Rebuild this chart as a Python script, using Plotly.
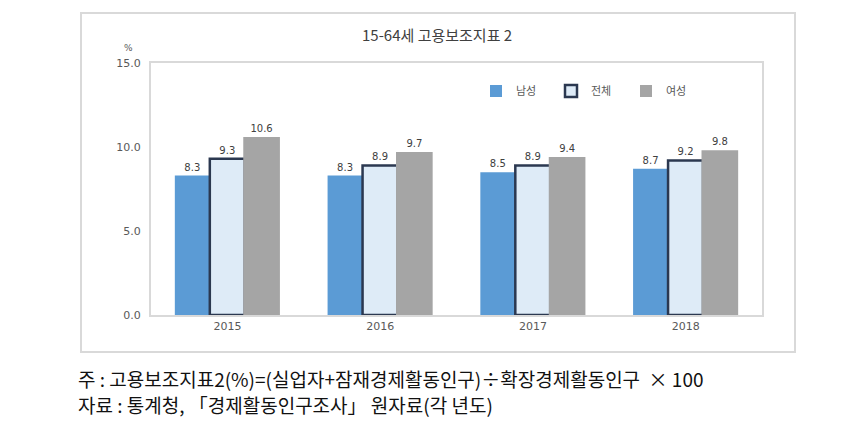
import plotly.graph_objects as go

years = ["2015", "2016", "2017", "2018"]
male = [8.3, 8.3, 8.5, 8.7]
total = [9.3, 8.9, 8.9, 9.2]
female = [10.6, 9.7, 9.4, 9.8]
series_names = ["남성", "전체", "여성"]

title_text = "15-64세 고용보조지표 2"
note1 = "주 : 고용보조지표2(%)=(실업자+잠재경제활동인구)÷확장경제활동인구  × 100"
note2 = "자료 : 통계청, 「경제활동인구조사」 원자료(각 년도)"

OFF = 8  # page body margin
W, H = 851 - OFF, 425 - OFF
L, R, T, B = 151, 762, 63, 315  # page coordinates of plot area
pw, ph = R - L, B - T

def px(x):
    return (x - L) / pw

def py(y):
    return (B - y) / ph

lbl_font = dict(family="DejaVu Sans, Verdana", size=10, color="#404040")
bw = 0.229

fig = go.Figure()
fig.add_trace(go.Bar(
    name=series_names[0], x=years, y=male, width=bw, offset=-0.344,
    marker=dict(color="#5b9bd5", line=dict(width=0)),
    text=[f"{v:.1f}" for v in male], textposition="outside",
    textfont=lbl_font, cliponaxis=False,
))
fig.add_trace(go.Bar(
    name=series_names[1], x=years, y=total, width=bw, offset=-0.115,
    marker=dict(color="#deebf7", line=dict(color="#2b3850", width=2.5)),
    text=[f"{v:.1f}" for v in total], textposition="outside",
    textfont=lbl_font, cliponaxis=False,
))
fig.add_trace(go.Bar(
    name=series_names[2], x=years, y=female, width=0.24, offset=0.104,
    marker=dict(color="#a5a5a5", line=dict(width=0)),
    text=[f"{v:.1f}" for v in female], textposition="outside",
    textfont=lbl_font, cliponaxis=False,
))

fig.update_layout(
    width=W, height=H,
    margin=dict(l=L - OFF, r=W - (R - OFF), t=T - OFF, b=H - (B - OFF), autoexpand=False),
    paper_bgcolor="white", plot_bgcolor="white",
    barmode="overlay",
    font=dict(family="DejaVu Sans, Verdana", size=10, color="#595959"),
    legend=dict(
        orientation="h", x=px(476), y=py(91), xanchor="left", yanchor="middle",
        font=dict(family="Noto Sans CJK KR", size=11, color="#595959"),
        entrywidth=30, entrywidthmode="pixels", tracegroupgap=0,
        bgcolor="rgba(0,0,0,0)",
    ),
    showlegend=True,
)
fig.update_xaxes(
    range=[-0.5, 3.5],
    showline=True, linecolor="#d9d9d9", linewidth=2, mirror=True,
    showgrid=False, ticks="", tickfont=dict(family="DejaVu Sans, Verdana", size=11, color="#595959"),
)
fig.update_yaxes(
    range=[0, 15], dtick=5, tickformat=".1f",
    showline=True, linecolor="#d9d9d9", linewidth=2, mirror=True,
    showgrid=False, zeroline=False, ticks="", ticklabelstandoff=6,
    tickfont=dict(family="DejaVu Sans, Verdana", size=11, color="#595959"),
)

# outer box
fig.add_shape(type="rect", xref="paper", yref="paper",
              x0=px(81), x1=px(795), y0=py(352), y1=py(13),
              line=dict(color="#d9d9d9", width=2), fillcolor="rgba(0,0,0,0)", layer="below")

fig.add_annotation(text=title_text, xref="paper", yref="paper",
                   x=px(437), y=py(35), xanchor="center", yanchor="middle",
                   showarrow=False, font=dict(family="Noto Sans CJK KR", size=15, color="#404040"))
fig.add_annotation(text="%", xref="paper", yref="paper",
                   x=px(128), y=py(48), xanchor="center", yanchor="middle",
                   showarrow=False, font=dict(family="DejaVu Sans", size=9, color="#595959"))
fig.add_annotation(text=note1, xref="paper", yref="paper",
                   x=px(76), y=py(378), xanchor="left", yanchor="middle",
                   showarrow=False, font=dict(family="Noto Sans CJK KR", size=19, color="#111111"))
fig.add_annotation(text=note2, xref="paper", yref="paper",
                   x=px(76), y=py(404), xanchor="left", yanchor="middle",
                   showarrow=False, font=dict(family="Noto Sans CJK KR", size=19, color="#111111"))

fig.write_html("out.html")
